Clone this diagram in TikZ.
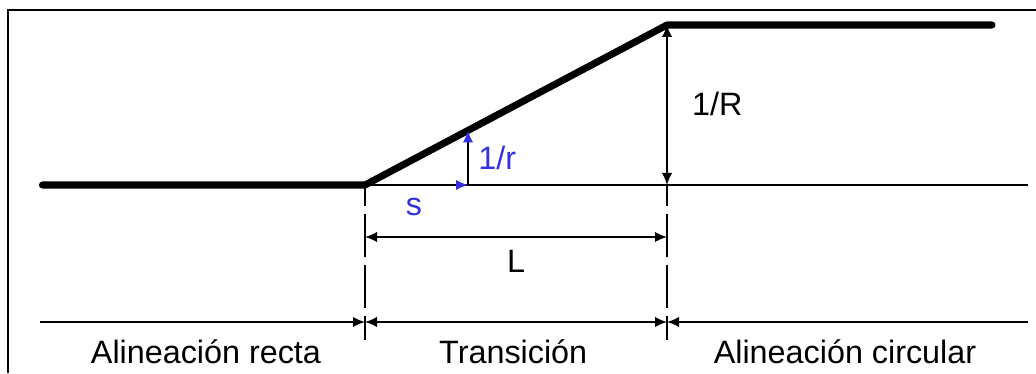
\documentclass[tikz,border=0pt]{standalone}
\usepackage{fontspec}
\setmainfont{Liberation Sans}
\usetikzlibrary{arrows.meta,calc}
\definecolor{sblue}{RGB}{50,50,225}

\begin{document}
\begin{tikzpicture}[
	thinline/.style={line width=1.2pt},
	thickline/.style={line width=5pt, line cap=round},
	dimline/.style={thinline, {Latex[length=3mm,width=2.6mm]}-{Latex[length=3mm,width=2.6mm]}},
	tipend/.style={thinline, -{Latex[length=3mm,width=2.6mm]}},
	tipstart/.style={thinline, {Latex[length=3mm,width=2.6mm]}-},
	bluetip/.style={thinline, -{Latex[length=3mm,width=2.6mm,color=sblue]}},
	guide/.style={thinline, dash pattern=on 1.075cm off 0.2cm, dash phase=0.55cm},
	lbl/.style={font=\fontsize{23}{27}\selectfont, inner sep=0pt},
]
	\useasboundingbox (0,0) rectangle (25.9,9.325);
	% frame
	\coordinate (frameBL) at (0.2,0);
	\coordinate (frameTL) at (0.2,9.075);
	\coordinate (frameTR) at (25.9,9.075);
	\draw[thinline] (frameBL) -- (frameTL) -- (frameTR);
	
	% curvature diagram
	\coordinate (start) at (1.06,4.7);
	\coordinate (tsA) at (9.125,4.7);
	\coordinate (tsB) at (16.675,8.7);
	\coordinate (arcEnd) at (24.8,8.7);
	\coordinate (baseEnd) at (25.7,4.7);
	\coordinate (baseB) at (16.675,4.7);
	\coordinate (sPt) at (11.7,4.7);
	\coordinate (rPt) at ($(tsA)!0.341!(tsB)$);
	
	\draw[thickline, line join=round] (start) -- (tsA) -- (tsB) -- (arcEnd);
	\draw[thinline] (tsA) -- (baseEnd);
	\draw[dimline] (baseB) -- (tsB);
	\draw[bluetip] (tsA) -- (sPt);
	\draw[bluetip] (sPt) -- (rPt);
	
	\node[lbl] (labR) at (17.93,6.725) {1/R};
	\node[lbl, text=sblue] (labr) at (12.43,5.375) {1/r};
	\node[lbl, text=sblue] (labs) at (10.35,4.15) {s};
	
	% guides and length
	\coordinate (guideA) at (9.125,0.825);
	\coordinate (guideB) at (16.675,0.825);
	\draw[guide] (tsA) -- (guideA);
	\draw[guide] (baseB) -- (guideB);
	
	\coordinate (lenA) at (9.125,3.4);
	\coordinate (lenB) at (16.675,3.4);
	\draw[dimline] (lenA) -- (lenB);
	\node[lbl] (labL) at (12.9,2.78) {L};
	
	% sections
	\coordinate (secL) at (1.0,1.275);
	\coordinate (secA) at (9.125,1.275);
	\coordinate (secB) at (16.675,1.275);
	\coordinate (secR) at (25.7,1.275);
	\draw[tipend] (secL) -- (secA);
	\draw[dimline] (secA) -- (secB);
	\draw[tipstart] (secB) -- (secR);
	
	\node[lbl] (labRecta) at (5.15,0.525) {Alineación recta};
	\node[lbl] (labTrans) at (12.83,0.525) {Transición};
	\node[lbl] (labCirc) at (21.125,0.525) {Alineación circular};
\end{tikzpicture}
\end{document}
